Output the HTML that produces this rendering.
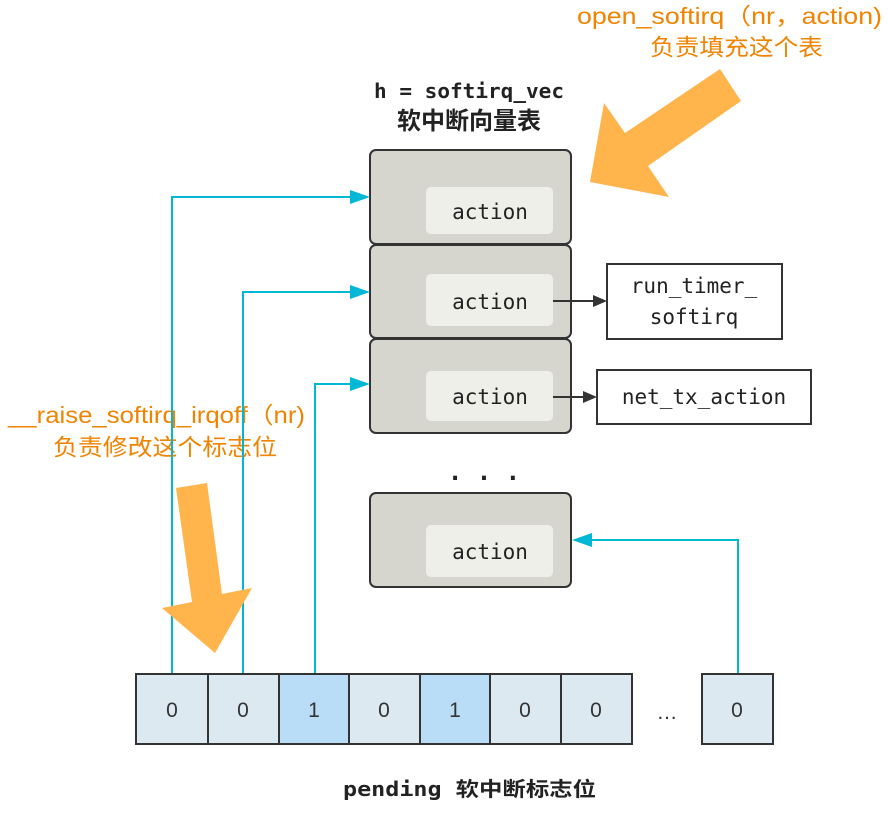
<!DOCTYPE html>
<html><head><meta charset="utf-8"><style>
body{margin:0;background:#fff;}
svg text{font-family:"DejaVu Sans Mono","Liberation Mono","Noto Sans CJK SC",monospace;}
.o{font-family:"Liberation Sans","Noto Sans CJK SC",sans-serif !important;fill:#f08300;font-size:23px;}
.d{font-family:'Liberation Sans',sans-serif !important;}
</style></head><body>
<svg width="888" height="808" xmlns="http://www.w3.org/2000/svg">
<text x="374" y="98" textLength="190" lengthAdjust="spacingAndGlyphs" font-size="20" font-weight="bold" fill="#222">h = softirq_vec</text>
<text x="469" y="129" text-anchor="middle" font-size="24" font-weight="bold" fill="#222" style="font-family:'Noto Sans CJK SC',sans-serif">软中断向量表</text>
<text x="577" y="24" textLength="305" lengthAdjust="spacingAndGlyphs" class="o">open_softirq（nr，action)</text>
<text x="650" y="55" textLength="173" lengthAdjust="spacingAndGlyphs" class="o">负责填充这个表</text>
<text x="8" y="423" textLength="297" lengthAdjust="spacingAndGlyphs" class="o">__raise_softirq_irqoff（nr)</text>
<text x="53" y="455" textLength="224" lengthAdjust="spacingAndGlyphs" class="o">负责修改这个标志位</text>
<g stroke="#333" stroke-width="2" fill="#d6d6ce">
<rect x="370" y="150" width="201" height="94" rx="6"/>
<rect x="370" y="245" width="201" height="93" rx="6"/>
<rect x="370" y="339" width="201" height="94" rx="6"/>
<rect x="370" y="493" width="201" height="94" rx="6"/>
</g>
<g fill="#efefea">
<rect x="426" y="187" width="127" height="47" rx="5"/>
<rect x="426" y="274" width="127" height="52" rx="5"/>
<rect x="426" y="371" width="127" height="50" rx="5"/>
<rect x="426" y="525" width="127" height="52" rx="5"/>
</g>
<g font-size="21" fill="#222" text-anchor="middle">
<text x="490" y="219">action</text>
<text x="490" y="309">action</text>
<text x="490" y="404">action</text>
<text x="490" y="559">action</text>
</g>
<text x="484" y="480" text-anchor="middle" font-size="24" font-weight="bold" fill="#222">. . .</text>
<rect x="607" y="264" width="175" height="75" fill="#fff" stroke="#333" stroke-width="2"/>
<text x="694" y="293" text-anchor="middle" font-size="21" fill="#222">run_timer_</text>
<text x="694" y="324" text-anchor="middle" font-size="21" fill="#222">softirq</text>
<rect x="597" y="370" width="214" height="54" fill="#fff" stroke="#333" stroke-width="2"/>
<text x="704" y="404" text-anchor="middle" font-size="21" fill="#222">net_tx_action</text>
<line x1="553" y1="301" x2="594" y2="301" stroke="#333" stroke-width="2"/>
<path d="M607,301 L593,295 L593,307z" fill="#333"/>
<line x1="553" y1="397" x2="584" y2="397" stroke="#333" stroke-width="2"/>
<path d="M597,397 L583,391 L583,403z" fill="#333"/>
<g stroke="#00b7d6" stroke-width="2" fill="none">
<polyline points="172,674 172,197 354,197"/>
<polyline points="243,674 243,292 354,292"/>
<polyline points="315,674 315,384 354,384"/>
<polyline points="738,674 738,540 588,540"/>
</g>
<g fill="#00b7d6">
<path d="M370,197 L350,190 L350,204z"/>
<path d="M370,292 L350,285 L350,299z"/>
<path d="M370,384 L350,377 L350,391z"/>
<path d="M572,540 L592,533 L592,547z"/>
</g>
<polygon fill="#ffb44c" points="720,69 741,101 648,166 669,197 590,182 604,103 625,133"/>
<polygon fill="#ffb44c" points="176,488 207,483 222,594 252,588 215,653 162,608 192,602"/>
<g stroke="#333" stroke-width="2">
<rect x="136" y="674" width="72" height="70" fill="#dce9f1"/>
<rect x="208" y="674" width="71" height="70" fill="#dce9f1"/>
<rect x="279" y="674" width="70" height="70" fill="#b9dcf7"/>
<rect x="349" y="674" width="71" height="70" fill="#dce9f1"/>
<rect x="420" y="674" width="70" height="70" fill="#b9dcf7"/>
<rect x="490" y="674" width="71" height="70" fill="#dce9f1"/>
<rect x="561" y="674" width="71" height="70" fill="#dce9f1"/>
<rect x="702" y="674" width="71" height="70" fill="#dce9f1"/>
</g>
<g font-size="21" fill="#333" text-anchor="middle">
<text x="172" y="717" class="d">0</text>
<text x="243" y="717" class="d">0</text>
<text x="314" y="717" class="d">1</text>
<text x="384" y="717" class="d">0</text>
<text x="455" y="717" class="d">1</text>
<text x="525" y="717" class="d">0</text>
<text x="596" y="717" class="d">0</text>
<text x="667" y="719" class="d">…</text>
<text x="737" y="717" class="d">0</text>
</g>
<text x="343" y="796" textLength="253" lengthAdjust="spacingAndGlyphs" font-size="20" font-weight="bold" fill="#222">pending <tspan style="font-family:'Noto Sans CJK SC',sans-serif">软中断标志位</tspan></text>
</svg>
</body></html>
